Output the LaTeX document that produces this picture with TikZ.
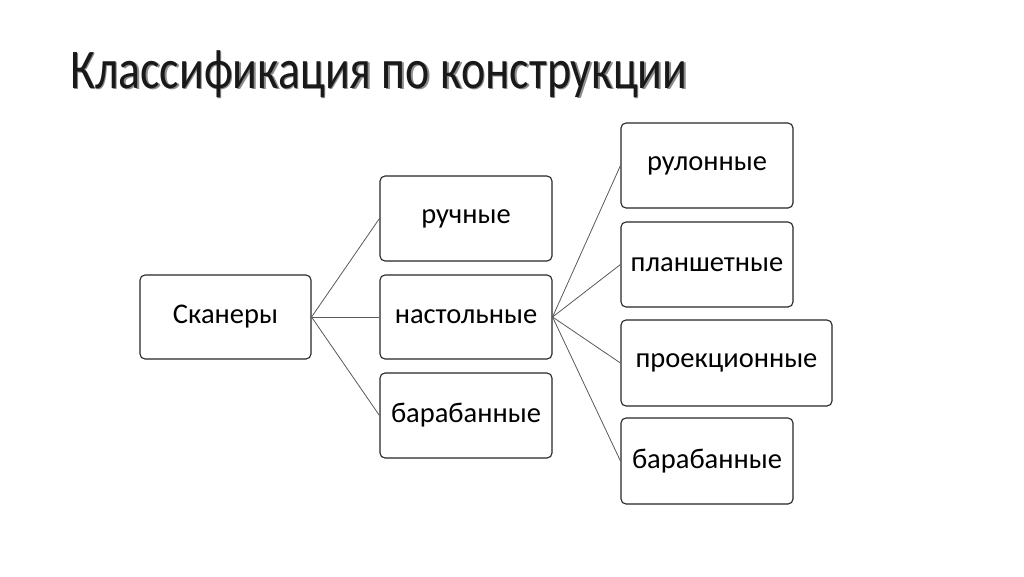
\documentclass[tikz,border=0pt]{standalone}
\usepackage{fontspec}
\setmainfont{Carlito}
\begin{document}
\begin{tikzpicture}[x=1pt,y=-1pt,
  box/.style={draw=black!85,line width=1.1pt,rounded corners=5pt,fill=white,inner sep=0pt,font=\fontsize{28.5}{32}\selectfont},
  conn/.style={draw=black!65,line width=0.8pt},
  ttl/.style={anchor=base west,inner sep=0pt,font=\fontsize{56}{60}\selectfont}]
\useasboundingbox (0,0) rectangle (1024,576);
\node[ttl,text=black!45] (titleshadow) at (71.5,89.5) {\scalebox{0.82}[1]{Классификация по конструкции}};
\node[ttl,text=black!90] (title) at (70,88) {\scalebox{0.82}[1]{Классификация по конструкции}};
\node[box,minimum width=171pt,minimum height=84pt] (root) at (225.5,317) {Сканеры};
\node[box,minimum width=172pt,minimum height=85pt] (a) at (466,218.5) {ручные};
\node[box,minimum width=172pt,minimum height=84pt] (b) at (466,317) {настольные};
\node[box,minimum width=172pt,minimum height=85pt] (c) at (466,415.5) {барабанные};
\node[box,minimum width=172pt,minimum height=85pt] (d1) at (707,165.5) {рулонные};
\node[box,minimum width=172pt,minimum height=85pt] (d2) at (707,264.5) {планшетные};
\node[box,minimum width=211pt,minimum height=86pt] (d3) at (726.5,363) {проекционные};
\node[box,minimum width=172pt,minimum height=86pt] (d4) at (707,461) {барабанные};
\draw[conn] (root.east) -- (a.west);
\draw[conn] (root.east) -- (b.west);
\draw[conn] (root.east) -- (c.west);
\draw[conn] (b.east) -- (d1.west);
\draw[conn] (b.east) -- (d2.west);
\draw[conn] (b.east) -- (d3.west);
\draw[conn] (b.east) -- (d4.west);
\end{tikzpicture}
\end{document}
